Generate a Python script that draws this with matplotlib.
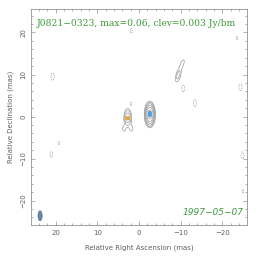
import numpy as np
import matplotlib.pyplot as plt
from matplotlib.patches import Ellipse

# map parameters
source = "J0821\u22120323"
peak = 0.06
clev = 0.003
epoch = "1997\u221205\u221207"

# gaussian components: RA, Dec (mas), flux (Jy/bm), sigma_ra, sigma_dec, pa (deg)
comp_ra = [-2.6, 2.7, 3.6, 1.8, -9.4, -10.4, 1.9]
comp_dec = [0.5, -0.3, -2.9, -2.9, 9.8, 12.6, 3.0]
comp_flux = [0.06, 0.013, 0.0045, 0.0045, 0.0065, 0.0045, -0.0042]
comp_sra = [0.55, 0.55, 0.35, 0.35, 0.45, 0.35, 0.3]
comp_sdec = [1.3, 1.3, 0.6, 0.6, 1.3, 1.0, 0.6]
comp_pa = [0, 0, 0, 0, -15, -20, 0]

# negative noise blobs
neg_ra = [-10.6, -13.4, 20.7, -24.3, 1.8, -23.5, 21.0, 19.2, -24.8, -24.9]
neg_dec = [6.7, 3.2, 9.5, 7.0, 20.4, 18.7, -9.0, -6.3, -9.2, -17.8]
neg_flux = [-0.0045, -0.0045, -0.0048, -0.0045, -0.0036, -0.0034, -0.004, -0.0034, -0.0045, -0.0034]

# fitted model components and beam
mod_ra = [-2.6, 2.7]
mod_dec = [0.6, -0.4]
mod_w = [1.0, 1.0]
mod_h = [1.5, 1.0]
mod_col = ['#4aa3e6', '#f0a21e']
beam = (23.7, -23.6, 1.0, 2.4)

ra = np.linspace(-27, 27, 500)
dec = np.linspace(-27, 27, 500)
X, Y = np.meshgrid(ra, dec)
img = np.zeros_like(X)
for x0, y0, f, sx, sy, pa in zip(comp_ra, comp_dec, comp_flux, comp_sra, comp_sdec, comp_pa):
    t = np.radians(pa)
    dx = (X - x0) * np.cos(t) - (Y - y0) * np.sin(t)
    dy = (X - x0) * np.sin(t) + (Y - y0) * np.cos(t)
    img += f * np.exp(-0.5 * ((dx / sx) ** 2 + (dy / sy) ** 2))
for x0, y0, f in zip(neg_ra, neg_dec, neg_flux):
    img += f * np.exp(-0.5 * (((X - x0) / 0.4) ** 2 + ((Y - y0) / 0.9) ** 2))

pos_levels = [clev * 1.7 ** k for k in range(6)]

fig = plt.figure(figsize=(2.64, 2.62), dpi=100)
ax = fig.add_axes([0.117, 0.141, 0.819, 0.825])
ax.contour(X, Y, img, levels=pos_levels, colors='#909090', linewidths=0.45)
ax.contour(X, Y, img, levels=[-clev], colors='#909090', linewidths=0.45,
           linestyles=[(0, (2, 1.5))])

for x0, y0, w, h, c in zip(mod_ra, mod_dec, mod_w, mod_h, mod_col):
    ax.add_patch(Ellipse((x0, y0), w, h, facecolor=c, edgecolor='none', zorder=3))
ax.add_patch(Ellipse(beam[:2], beam[2], beam[3], facecolor='#6a86a8', edgecolor='#4a6688', lw=0.4, zorder=3))

ax.set_xlim(25.9, -25.9)
ax.set_ylim(-25.8, 25.6)
ax.set_xticks([20, 10, 0, -10, -20])
ax.set_yticks([-20, -10, 0, 10, 20])
ax.set_xticks(np.arange(-24, 26, 2), minor=True)
ax.set_yticks(np.arange(-24, 26, 2), minor=True)
ax.tick_params(which='both', direction='in', top=True, right=True, colors='#909090',
               labelcolor='#606060', labelsize=5, width=0.5)
ax.tick_params(which='major', length=3)
ax.tick_params(which='minor', length=1.5)
ax.set_xticklabels(['20', '10', '0', '\u221210', '\u221220'])
ax.set_yticklabels(['\u221220', '\u221210', '0', '10', '20'], rotation=90, va='center')
for s in ax.spines.values():
    s.set_color('#909090')
    s.set_linewidth(0.6)
ax.set_xlabel('Relative Right Ascension (mas)', fontsize=5, color='#606060', labelpad=6)
ax.set_ylabel('Relative Declination (mas)', fontsize=5, color='#606060', labelpad=4)

ax.text(0.025, 0.955, f"{source}, max={peak:g}, clev={clev:g} Jy/bm", transform=ax.transAxes,
        fontsize=6.6, family='DejaVu Serif', color='#3c9a3c', va='top', ha='left')
ax.text(0.985, 0.035, epoch, transform=ax.transAxes, fontsize=6.5, style='italic',
        color='#3c9a3c', ha='right', va='bottom')

fig.savefig('out.png', dpi=100)
